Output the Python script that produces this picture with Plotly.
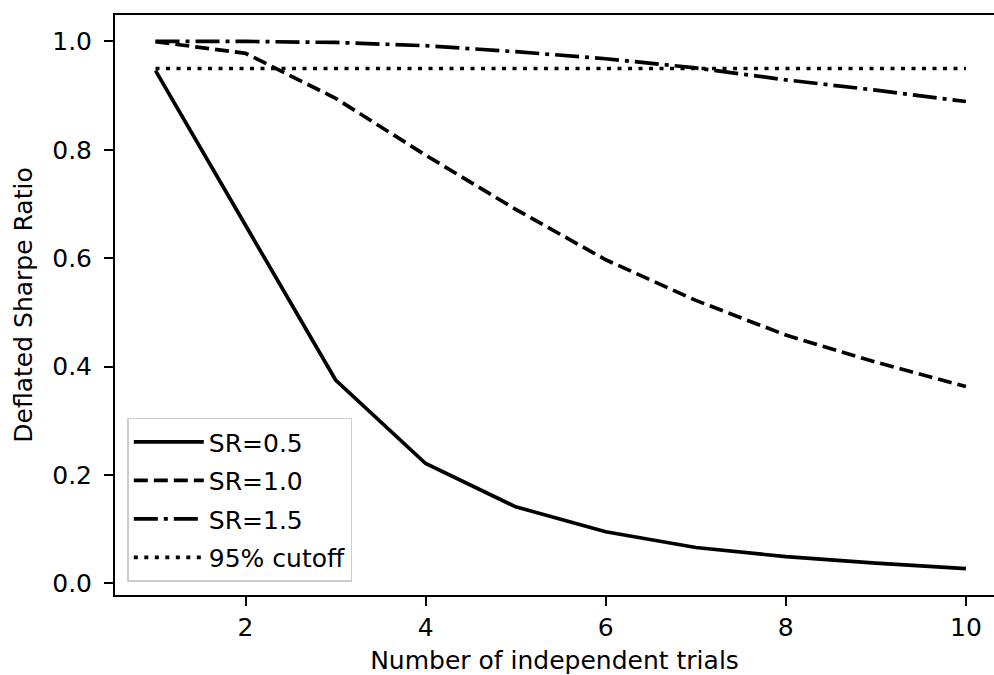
import plotly.graph_objects as go

trials = [1, 2, 3, 4, 5, 6, 7, 8, 9, 10]
dsr_05 = [0.946, 0.662, 0.375, 0.221, 0.141, 0.095, 0.066, 0.049, 0.037, 0.027]
dsr_10 = [0.9995, 0.978, 0.895, 0.79, 0.69, 0.597, 0.522, 0.458, 0.408, 0.363]
dsr_15 = [1.0, 1.0, 0.998, 0.992, 0.981, 0.968, 0.951, 0.929, 0.91, 0.889]
cutoff = [0.95] * len(trials)

series = [
    ("SR=0.5", dsr_05, "solid"),
    ("SR=1.0", dsr_10, "14px,6px"),
    ("SR=1.5", dsr_15, "24px,6px,4px,6px"),
    ("95% cutoff", cutoff, "4px,6.5px"),
]

fig = go.Figure()
for i, (name, vals, dash) in enumerate(series):
    fig.add_trace(go.Scatter(
        x=trials, y=vals, mode="lines", name=name,
        legendgroup=f"g{i}",
        line=dict(color="black", width=3.7, dash=dash),
    ))

font = dict(family="DejaVu Sans", size=25, color="black")

fig.update_layout(
    width=994, height=675,
    margin=dict(l=114.5, r=0, t=15.3, b=80),
    paper_bgcolor="white", plot_bgcolor="white",
    font=font,
    showlegend=True,
    legend=dict(
        x=0.014, y=0.023, xanchor="left", yanchor="bottom",
        bgcolor="rgba(255,255,255,0.8)", bordercolor="#cccccc", borderwidth=1.5,
        traceorder="grouped", tracegroupgap=3, itemwidth=70,
        font=font,
    ),
    xaxis=dict(
        range=[0.55, 10.312], tickmode="array", tickvals=[2, 4, 6, 8, 10],
        ticktext=["2", "4", "6", "8", "10"],
        showgrid=False, zeroline=False,
        showline=True, linecolor="black", linewidth=2, mirror=True,
        ticks="outside", ticklen=9, tickwidth=2, tickcolor="black",
        title=dict(text="Number of independent trials", standoff=18, font=font),
        automargin=False,
    ),
    yaxis=dict(
        range=[-0.0217, 1.0487], tickmode="array",
        tickvals=[0.0, 0.2, 0.4, 0.6, 0.8, 1.0],
        ticktext=["0.0", "0.2", "0.4", "0.6", "0.8", "1.0"],
        showgrid=False, zeroline=False,
        showline=True, linecolor="black", linewidth=2, mirror=False,
        ticks="outside", ticklen=9, tickwidth=2, tickcolor="black",
        ticklabelstandoff=7,
        title=dict(text="Deflated Sharpe Ratio", standoff=12, font=font),
        automargin=False,
    ),
)

fig.write_html(
    "out.html",
    config={"displayModeBar": False},
    post_script="document.body.style.margin='0';document.body.style.overflow='hidden';",
)
